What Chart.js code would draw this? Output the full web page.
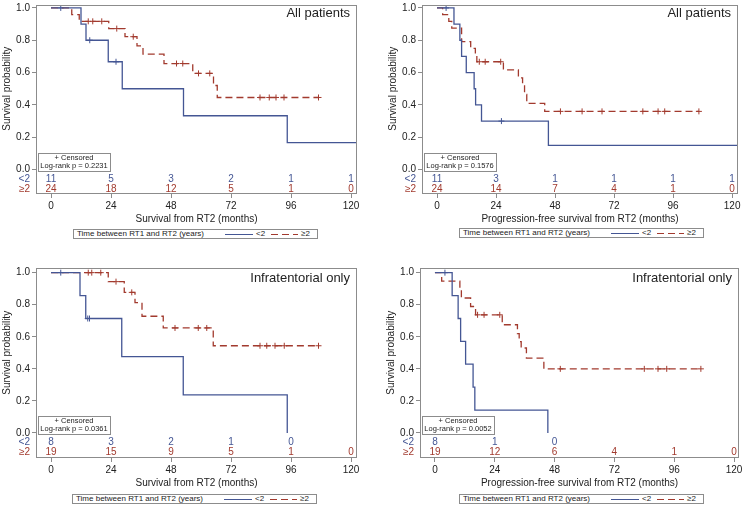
<!DOCTYPE html>
<html>
<head>
<meta charset="utf-8">
<script src="https://cdn.jsdelivr.net/npm/chart.js@4.4.1/dist/chart.umd.min.js"></script>
<style>
  body { margin: 0; background: #fff; font-family: "Liberation Sans", Arial, sans-serif; }
  canvas { position: absolute; }
  .legend { position: absolute; box-sizing: border-box; width: 245px; height: 10px; border: 1px solid #8c8c8c; background: #fff; font-size: 8px; line-height: 8px; color: #222; }
  .legend span, .legend svg { position: absolute; top: 0; }
</style>
</head>
<body>
<canvas id="allOs" width="372" height="226" style="left:0;top:0"></canvas>
<canvas id="allPfs" width="372" height="226" style="left:372px;top:0"></canvas>
<canvas id="infOs" width="372" height="227" style="left:0;top:263px"></canvas>
<canvas id="infPfs" width="372" height="227" style="left:372px;top:263px"></canvas>
<div id="legends"></div>
<script>
const xTicks = [0, 24, 48, 72, 96, 120];
const yTicks = [0, 0.2, 0.4, 0.6, 0.8, 1.0];

// All patients - survival from RT2
const allOsLtTimes = [0, 12, 14, 22.9, 28.5, 53, 94.5, 122.4];
const allOsLtSurv = [1, 0.9, 0.8, 0.667, 0.5, 0.333, 0.167, 0.167];
const allOsLtCens = [3.9, 15.5, 26];
const allOsGeTimes = [0, 8.3, 11.3, 23.1, 29.6, 34.4, 36.8, 45.2, 56.7, 65, 66.5, 107];
const allOsGeSurv = [1, 0.958, 0.917, 0.872, 0.822, 0.765, 0.714, 0.656, 0.595, 0.52, 0.446, 0.446];
const allOsGeCens = [14.9, 16.7, 20.3, 26.3, 32.9, 50.2, 52.7, 59, 63.5, 83.6, 87.3, 90, 93.2, 107];
const allOsLtRisk = [11, 5, 3, 2, 1, 1];
const allOsGeRisk = [24, 18, 12, 5, 1, 0];

// All patients - progression-free survival from RT2
const allPfsLtTimes = [0, 6.9, 9.3, 10.0, 11.9, 15.1, 15.7, 18.1, 45.3, 122.4];
const allPfsLtSurv = [1, 0.9, 0.8, 0.7, 0.6, 0.5, 0.4, 0.3, 0.15, 0.15];
const allPfsLtCens = [3.7, 26.2];
const allPfsGeTimes = [0, 2.3, 4.8, 6.0, 10.0, 13.7, 15.6, 16.2, 27.0, 33.1, 34.8, 35.6, 36.5, 43.8, 106.5];
const allPfsGeSurv = [1, 0.958, 0.917, 0.875, 0.792, 0.75, 0.708, 0.667, 0.617, 0.567, 0.517, 0.465, 0.41, 0.36, 0.36];
const allPfsGeCens = [17.2, 19.6, 25.9, 50.2, 59, 67.1, 83.7, 89.9, 92.6, 106.5];
const allPfsLtRisk = [11, 3, 1, 1, 1, 1];
const allPfsGeRisk = [24, 14, 7, 4, 1, 0];

// Infratentorial only - survival from RT2
const infOsLtTimes = [0, 11.6, 13.9, 28.3, 52.9, 94.5];
const infOsLtSurv = [1, 0.857, 0.714, 0.476, 0.238, 0];
const infOsLtCens = [3.9, 14.7, 15.4];
const infOsGeTimes = [0, 22.9, 29.3, 33.6, 36.4, 44.9, 64.9, 107];
const infOsGeSurv = [1, 0.944, 0.877, 0.813, 0.728, 0.655, 0.544, 0.544];
const infOsGeCens = [14.9, 16.3, 19.9, 26, 32.3, 49.6, 58.9, 62.3, 83.6, 86.3, 89.6, 93.3, 107];
const infOsLtRisk = [8, 3, 2, 1, 0];
const infOsGeRisk = [19, 15, 9, 5, 1, 0];

// Infratentorial only - progression-free survival from RT2
const infPfsLtTimes = [0, 6.9, 9.3, 10.3, 12.3, 15.3, 16.0, 45.3];
const infPfsLtSurv = [1, 0.857, 0.714, 0.571, 0.429, 0.286, 0.143, 0];
const infPfsLtCens = [4];
const infPfsGeTimes = [0, 2.7, 10.0, 10.6, 14.3, 16.3, 27.0, 33.1, 33.8, 34.6, 36.7, 43.7, 106.7];
const infPfsGeSurv = [1, 0.947, 0.895, 0.842, 0.789, 0.737, 0.675, 0.62, 0.57, 0.53, 0.467, 0.40, 0.40];
const infPfsGeCens = [17.1, 19.7, 26, 50.3, 84, 89.5, 93, 106.7];
const infPfsLtRisk = [8, 1, 0];
const infPfsGeRisk = [19, 12, 6, 4, 1, 0];

const blue = '#445694';
const red = '#A23A2E';
const frameColor = '#8c8c8c';
const textColor = '#222';
const family = '"Liberation Sans", Arial, sans-serif';

function survAt(times, surv, t) {
  let s = surv[0];
  for (let i = 0; i < times.length; i++) {
    if (times[i] <= t) s = surv[i];
  }
  return s;
}
function curve(times, surv) {
  return times.map((t, i) => ({x: t, y: surv[i]}));
}
function censored(times, surv, cens) {
  return cens.map(t => ({x: t, y: survAt(times, surv, t)}));
}

// frame, panel label, y title, censor box and the numbers at risk
const kmExtras = {
  id: 'kmExtras',
  afterDraw(chart, args, o) {
    const {ctx, chartArea: a, scales: {x, y}} = chart;
    const y0 = y.getPixelForValue(0);
    ctx.save();
    ctx.strokeStyle = frameColor;
    ctx.lineWidth = 1;
    ctx.strokeRect(Math.round(a.left) + 0.5, Math.round(a.top) + 0.5,
      Math.round(a.right - a.left) - 1, Math.round(a.bottom - a.top) - 1);

    ctx.fillStyle = textColor;
    ctx.textBaseline = 'middle';
    ctx.font = '13px ' + family;
    ctx.textAlign = 'right';
    ctx.fillText(o.label, a.right - 7, y.getPixelForValue(1) + 6);

    ctx.save();
    ctx.translate(a.left - 29, (y0 + y.getPixelForValue(1)) / 2);
    ctx.rotate(-Math.PI / 2);
    ctx.font = '10px ' + family;
    ctx.textAlign = 'center';
    ctx.fillText('Survival probability', 0, 0);
    ctx.restore();

    const bw = 72, bh = 18;
    const bx = Math.round(a.left) + 2;
    const by = Math.round(y0 + 1 - bh);
    ctx.fillStyle = '#fff';
    ctx.fillRect(bx, by, bw, bh);
    ctx.strokeRect(bx + 0.5, by + 0.5, bw, bh);
    ctx.fillStyle = textColor;
    ctx.font = '7.5px ' + family;
    ctx.textAlign = 'center';
    ctx.fillText('+ Censored', bx + bw / 2, by + 4.8);
    ctx.fillText('Log-rank p = ' + o.p, bx + bw / 2, by + 13);

    ctx.font = '10px ' + family;
    const rows = [
      {label: '<2', color: blue, vals: o.riskLt, dy: 9.5},
      {label: '\u22652', color: red, vals: o.riskGe, dy: 19.5}
    ];
    rows.forEach(r => {
      ctx.fillStyle = r.color;
      ctx.textAlign = 'right';
      ctx.fillText(r.label, a.left - 6, y0 + r.dy);
      ctx.textAlign = 'center';
      r.vals.forEach((v, i) => ctx.fillText(String(v), x.getPixelForValue(xTicks[i]), y0 + r.dy));
    });
    ctx.restore();
  }
};

function makePanel(id, p) {
  const tickFont = {size: 10, family: family};
  return new Chart(document.getElementById(id), {
    type: 'line',
    data: {
      datasets: [
        {data: curve(p.ltTimes, p.ltSurv), borderColor: blue, borderWidth: 1.3, stepped: 'before', pointRadius: 0},
        {data: curve(p.geTimes, p.geSurv), borderColor: red, borderWidth: 1.3, borderDash: [7, 4], stepped: 'before', pointRadius: 0},
        {data: censored(p.ltTimes, p.ltSurv, p.ltCens), showLine: false, pointStyle: 'cross', pointRadius: 3, borderColor: blue, borderWidth: 1},
        {data: censored(p.geTimes, p.geSurv, p.geCens), showLine: false, pointStyle: 'cross', pointRadius: 3, borderColor: red, borderWidth: 1}
      ]
    },
    options: {
      responsive: false,
      animation: false,
      events: [],
      layout: {padding: {left: 0, top: 3, right: p.padRight, bottom: 0}},
      scales: {
        x: {
          type: 'linear', min: p.xMin, max: p.xMax,
          afterBuildTicks: s => { s.ticks = xTicks.map(v => ({value: v})); },
          afterFit: s => { s.height = 32; s.paddingLeft = 0; s.paddingRight = 0; },
          grid: {drawOnChartArea: false, tickLength: 4, color: frameColor},
          border: {display: false},
          ticks: {font: tickFont, color: textColor, padding: 2, maxRotation: 0, autoSkip: false},
          title: {display: true, text: p.xTitle, font: tickFont, color: textColor, padding: {top: 0, bottom: 1}}
        },
        y: {
          min: p.yMin, max: p.yMax,
          afterBuildTicks: s => { s.ticks = yTicks.map(v => ({value: v})); },
          afterFit: s => { s.width = p.yWidth; s.paddingTop = 0; s.paddingBottom = 0; },
          grid: {drawOnChartArea: false, tickLength: 4, color: frameColor},
          border: {display: false},
          ticks: {font: tickFont, color: textColor, padding: 2, callback: v => v.toFixed(1)}
        }
      },
      plugins: {
        legend: {display: false},
        tooltip: {enabled: false},
        kmExtras: {label: p.label, p: p.pValue, riskLt: p.riskLt, riskGe: p.riskGe}
      }
    },
    plugins: [kmExtras]
  });
}

makePanel('allOs', {
  label: 'All patients', pValue: '0.2231', xTitle: 'Survival from RT2 (months)',
  ltTimes: allOsLtTimes, ltSurv: allOsLtSurv, ltCens: allOsLtCens,
  geTimes: allOsGeTimes, geSurv: allOsGeSurv, geCens: allOsGeCens,
  riskLt: allOsLtRisk, riskGe: allOsGeRisk,
  xMin: -6, xMax: 122.4, yMin: -0.151, yMax: 1.018, yWidth: 36, padRight: 15
});
makePanel('allPfs', {
  label: 'All patients', pValue: '0.1576', xTitle: 'Progression-free survival from RT2 (months)',
  ltTimes: allPfsLtTimes, ltSurv: allPfsLtSurv, ltCens: allPfsLtCens,
  geTimes: allPfsGeTimes, geSurv: allPfsGeSurv, geCens: allPfsGeCens,
  riskLt: allPfsLtRisk, riskGe: allPfsGeRisk,
  xMin: -6.1, xMax: 122.4, yMin: -0.151, yMax: 1.018, yWidth: 50, padRight: 6
});
makePanel('infOs', {
  label: 'Infratentorial only', pValue: '0.0361', xTitle: 'Survival from RT2 (months)',
  ltTimes: infOsLtTimes, ltSurv: infOsLtSurv, ltCens: infOsLtCens,
  geTimes: infOsGeTimes, geSurv: infOsGeSurv, geCens: infOsGeCens,
  riskLt: infOsLtRisk, riskGe: infOsGeRisk,
  xMin: -6, xMax: 122.4, yMin: -0.156, yMax: 1.029, yWidth: 36, padRight: 15
});
makePanel('infPfs', {
  label: 'Infratentorial only', pValue: '0.0052', xTitle: 'Progression-free survival from RT2 (months)',
  ltTimes: infPfsLtTimes, ltSurv: infPfsLtSurv, ltCens: infPfsLtCens,
  geTimes: infPfsGeTimes, geSurv: infPfsGeSurv, geCens: infPfsGeCens,
  riskLt: infPfsLtRisk, riskGe: infPfsGeRisk,
  xMin: -6, xMax: 122, yMin: -0.156, yMax: 1.029, yWidth: 48, padRight: 4
});

// legend boxes under each panel
const legendSpots = [[73, 229], [459, 228], [72, 494], [459, 494]];
document.getElementById('legends').innerHTML = legendSpots.map(([l, t]) =>
  '<div class="legend" style="left:' + l + 'px;top:' + t + 'px">' +
  '<span style="left:3px">Time between RT1 and RT2 (years)</span>' +
  '<svg style="left:151px" width="28" height="8"><line x1="0" y1="4.5" x2="28" y2="4.5" stroke="' + blue + '" stroke-width="1"/></svg>' +
  '<span style="left:182px">&lt;2</span>' +
  '<svg style="left:197px" width="27" height="8"><line x1="0" y1="4.5" x2="27" y2="4.5" stroke="' + red + '" stroke-width="1" stroke-dasharray="7 4"/></svg>' +
  '<span style="left:227px">\u22652</span>' +
  '</div>').join('');
</script>
</body>
</html>
